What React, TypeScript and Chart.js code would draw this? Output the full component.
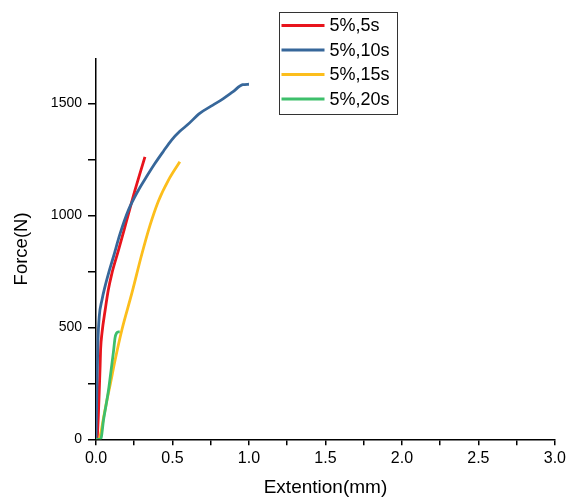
import React, { useEffect, useRef } from "react";
import { Chart, registerables } from "chart.js";

Chart.register(...registerables);

const seriesLabels = ["5%,5s", "5%,10s", "5%,15s", "5%,20s"];
const seriesColors = ["#e8141c", "#37679a", "#fcbe1c", "#3dbf6b"];

const redX = [0.008, 0.015, 0.022, 0.027, 0.03, 0.039, 0.06, 0.08, 0.104, 0.147, 0.201, 0.255, 0.32];
const redY = [0, 100, 230, 330, 400, 474, 577, 665, 741, 844, 978, 1112, 1261];

const blueX = [0, 0.004, 0.008, 0.013, 0.021, 0.039, 0.06, 0.082, 0.114, 0.158, 0.212, 0.277, 0.33, 0.385, 0.44, 0.494, 0.548, 0.6, 0.678, 0.764, 0.83, 0.894, 0.959, 1.0];
const blueY = [0, 150, 300, 443, 547, 622, 685, 741, 815, 919, 1023, 1112, 1172, 1231, 1285, 1336, 1375, 1405, 1455, 1492, 1520, 1551, 1583, 1585];

const yellowX = [0.023, 0.035, 0.049, 0.07, 0.093, 0.125, 0.169, 0.234, 0.299, 0.353, 0.407, 0.472, 0.548];
const yellowY = [0, 40, 95, 170, 245, 354, 488, 651, 825, 955, 1062, 1155, 1239];

const greenX = [0, 0.028, 0.035, 0.049, 0.065, 0.082, 0.099, 0.114, 0.125, 0.135, 0.147, 0.155];
const greenY = [0, 0, 10, 86, 150, 220, 310, 390, 455, 475, 480, 480];

const xTitle = "Extention(mm)";
const yTitle = "Force(N)";
const xMin = 0, xMax = 3;
const yMin = 0, yMax = 1700;
const xTickValues = [0, 0.25, 0.5, 0.75, 1, 1.25, 1.5, 1.75, 2, 2.25, 2.5, 2.75, 3];
const yTickValues = [0, 250, 500, 750, 1000, 1250, 1500];

const FONT = "'Liberation Sans', Arial, sans-serif";

const toPoints = (xs: number[], ys: number[]) => xs.map((x, i) => ({ x, y: ys[i] }));

const boxLegend = {
  id: "boxLegend",
  afterDraw(chart: any) {
    const ctx = chart.ctx;
    const ds = chart.data.datasets;
    const left = 279.5, top = 12.5, w = 118, rowH = 24.5;
    const h = rowH * ds.length + 4;
    ctx.save();
    ctx.fillStyle = "#ffffff";
    ctx.fillRect(left, top, w, h);
    ctx.strokeStyle = "#333333";
    ctx.lineWidth = 1;
    ctx.strokeRect(left, top, w, h);
    ctx.font = `18px ${FONT}`;
    ctx.textBaseline = "middle";
    ctx.textAlign = "left";
    ds.forEach((d: any, i: number) => {
      const cy = top + 13 + i * rowH;
      ctx.strokeStyle = d.borderColor;
      ctx.lineWidth = 3;
      ctx.beginPath();
      ctx.moveTo(left + 2, cy);
      ctx.lineTo(left + 45, cy);
      ctx.stroke();
      ctx.fillStyle = "#000";
      ctx.fillText(d.label, left + 50, cy + 1);
    });
    ctx.restore();
  },
};

export default function App() {
  const ref = useRef<HTMLCanvasElement>(null);
  useEffect(() => {
    document.body.style.margin = "0";
    const xs = [redX, blueX, yellowX, greenX];
    const ys = [redY, blueY, yellowY, greenY];
    const chart = new Chart(ref.current!, {
      type: "scatter",
      data: {
        datasets: seriesLabels.map((label, i) => ({
          label,
          data: toPoints(xs[i], ys[i]),
          showLine: true,
          borderColor: seriesColors[i],
          backgroundColor: seriesColors[i],
          borderWidth: 2.8,
          pointRadius: 0,
          cubicInterpolationMode: "monotone" as const,
          order: 4 - i,
        })),
      },
      options: {
        animation: false,
        responsive: false,
        devicePixelRatio: 1,
        layout: { padding: { top: 58.5, right: 12.7, bottom: 0, left: 0 } },
        plugins: { legend: { display: false }, tooltip: { enabled: false } },
        scales: {
          x: {
            type: "linear",
            min: xMin,
            max: xMax,
            afterBuildTicks: (s: any) => { s.ticks = xTickValues.map((value) => ({ value })); },
            afterFit: (s: any) => { s.height = 57.7; },
            border: { display: true, color: "#000", width: 1.5 },
            grid: { display: true, drawOnChartArea: false, drawTicks: true, tickLength: 6, color: "#000", lineWidth: 1.5 },
            ticks: {
              maxRotation: 0,
              autoSkip: false,
              padding: 4,
              color: "#000",
              font: { family: FONT, size: 16 },
              callback: (v: any) => (Math.abs(v * 2 - Math.round(v * 2)) < 1e-6 ? Number(v).toFixed(1) : ""),
            },
            title: { display: true, text: xTitle, color: "#000", font: { family: FONT, size: 19, lineHeight: 1 }, padding: { top: 0, bottom: 0 } },
          },
          y: {
            type: "linear",
            min: yMin,
            max: yMax,
            afterBuildTicks: (s: any) => { s.ticks = yTickValues.map((value) => ({ value })); },
            afterFit: (s: any) => { s.width = 96; },
            border: { display: true, color: "#000", width: 1.5 },
            grid: { display: true, drawOnChartArea: false, drawTicks: true, tickLength: 8, color: "#000", lineWidth: 1.5 },
            ticks: {
              autoSkip: false,
              padding: 6,
              color: "#000",
              font: { family: FONT, size: 14 },
              callback: (v: any) => (Number(v) % 500 === 0 ? String(v) : ""),
            },
            title: { display: true, text: yTitle, color: "#000", font: { family: FONT, size: 18.5, lineHeight: 1 }, padding: { top: 12.5, bottom: 0 } },
          },
        },
      },
      plugins: [boxLegend],
    });
    return () => chart.destroy();
  }, []);
  return (
    <div style={{ position: "absolute", left: 0, top: 0, width: 570, height: 497, background: "#fff" }}>
      <canvas ref={ref} width={570} height={497} style={{ width: 570, height: 497 }} />
    </div>
  );
}
